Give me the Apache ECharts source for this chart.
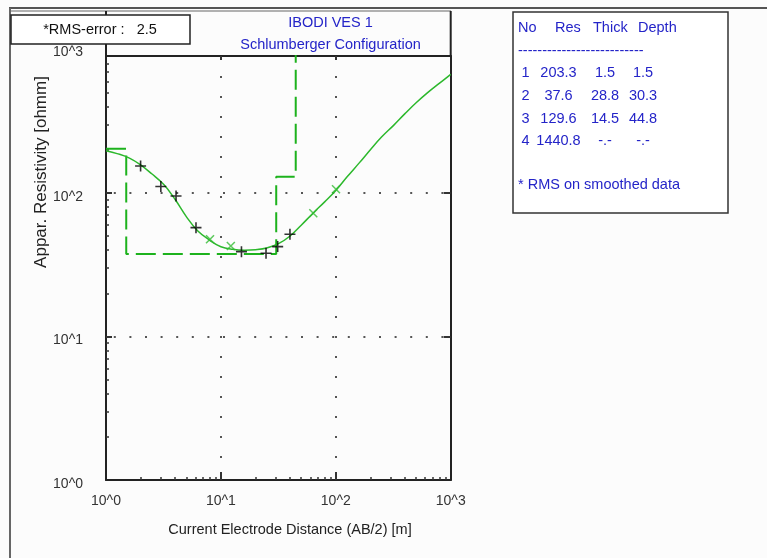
<!DOCTYPE html>
<html><head><meta charset="utf-8">
<script src="https://cdn.jsdelivr.net/npm/echarts@6/dist/echarts.min.js"></script>
<style>html,body{margin:0;padding:0;background:#fcfcfc}#c{width:767px;height:558px}</style>
</head><body><div id="c"></div>
<script>
// ---- texts ----
const titleLines = ['IBODI VES 1', 'Schlumberger Configuration'];
const rmsText = '*RMS-error :   2.5';
const xName = 'Current Electrode Distance (AB/2) [m]';
const yName = 'Appar. Resistivity [ohmm]';
const tableHeader = ['No', 'Res', 'Thick', 'Depth'];
const tableRule = '--------------------------';
const tableNote = '* RMS on smoothed data';
// ---- layer model table ----
const layerNo = ['1', '2', '3', '4'];
const layerRes = [203.3, 37.6, 129.6, 1440.8];
const layerThick = ['1.5', '28.8', '14.5', '-.-'];
const layerDepth = ['1.5', '30.3', '44.8', '-.-'];
// ---- tick labels ----
const xTickValues = [1, 10, 100, 1000];
const xTickLabels = ['10^0', '10^1', '10^2', '10^3'];
const yTickValues = [1, 10, 100, 900];
const yTickLabels = ['10^0', '10^1', '10^2', '10^3'];
const majorTicks = [10, 100];
const xMinorTicks = [2,3,4,5,6,7,8,9,20,30,40,50,60,70,80,90,200,300,400,500,600,700,800,900];
const yMinorTicks = [2,3,4,5,6,7,8,9,20,30,40,50,60,70,80,90,200,300,400,500,600,700,800];
// ---- observed data (black +) ----
const obsAB = [2.0, 3.0, 4.07, 6.07, 15.1, 24.7, 31.2, 39.9];
const obsRho = [154, 111, 95.3, 57.3, 39, 38, 42.3, 51.5];
// ---- smoothed data (green x) ----
const smAB = [8.04, 12.2, 63.7, 100.4];
const smRho = [47.6, 42.7, 72.2, 106];
// ---- model response curve ----
const curveAB = [1, 1.25, 1.6, 2, 2.5, 3.2, 4, 5, 6.3, 8, 10, 12.6, 16, 20, 25, 32, 40, 50, 63, 80, 100, 126, 160, 200, 250, 320, 400, 500, 630, 800, 1000];
const curveRho = [197, 188, 175, 157, 136, 114, 90, 68.4, 54.3, 46.8, 42.2, 40.5, 39.9, 40.2, 41.3, 44.5, 50.1, 59.6, 72, 86.7, 104, 130, 162, 200, 245, 297, 357, 425, 500, 582, 671];

const FONT = '"Liberation Sans", Arial, sans-serif';
const BLUE = '#2424c8';
const GREEN = '#1db21d';

const zip = (a, b) => a.map((v, i) => [v, b[i]]);
// step model from layers
const depths = layerDepth.filter(d => !isNaN(parseFloat(d))).map(parseFloat);
const modelPts = [[xTickValues[0], layerRes[0]]];
depths.forEach((d, i) => { modelPts.push([d, layerRes[i]]); modelPts.push([d, layerRes[i + 1]]); });

const fmt = (labels) => (v) => labels[Math.round(Math.log10(v))];

const L = 106, T = 56, W = 344.7, H = 424;
const baseAxis = {type: 'log', logBase: 10, axisLine: {show: false}, axisTick: {show: false}, axisLabel: {show: false}, splitLine: {show: false}, minorTick: {show: false}, minorSplitLine: {show: false}};
const axLine = {show: true, onZero: false, lineStyle: {color: '#222', width: 2}};

const chart = echarts.init(document.getElementById('c'), null, {renderer: 'canvas'});

function txt(text, x, y, opt) {
  opt = opt || {};
  return {type: 'text', z: 50, rotation: opt.rotation || 0, x: x, y: y,
    style: {text: text, x: 0, y: 0, fill: opt.fill || BLUE, font: (opt.size || 14.5) + 'px ' + FONT,
      align: opt.align || 'left', verticalAlign: 'middle', textAlign: opt.align || 'left', textVerticalAlign: 'middle'}};
}
function line(x1, y1, x2, y2, color, w) {
  return {type: 'line', z: 40, shape: {x1, y1, x2, y2}, style: {stroke: color, lineWidth: w}};
}

const graphics = [
  line(9, 8, 767, 8, '#555', 2),
  line(10, 8, 10, 558, '#666', 2),
  line(10, 11, 451, 11, '#666', 1),
  line(L, 11, L, T, '#222', 2),
  line(L + W, 11, L + W, T, '#222', 2),
  {type: 'rect', z: 45, shape: {x: 11, y: 15, width: 179, height: 29}, style: {fill: '#fff', stroke: '#222', lineWidth: 1.5}},
  txt(rmsText, 100, 29.5, {fill: '#111', align: 'center'}),
  txt(titleLines[0], 330.5, 23, {align: 'center'}),
  txt(titleLines[1], 330.5, 45, {align: 'center'}),
  {type: 'rect', z: 45, shape: {x: 513, y: 12, width: 215, height: 201}, style: {fill: '#fff', stroke: '#333', lineWidth: 1.5}},
  txt(xName, 290, 530, {fill: '#222', align: 'center', size: 14.5}),
  txt(yName, 41, 172, {fill: '#222', align: 'center', size: 17, rotation: Math.PI / 2}),
  txt(tableRule, 518, 51),
  txt(tableNote, 518, 185)
];
const headerX = [518, 555, 593, 638];
tableHeader.forEach((h, i) => graphics.push(txt(h, headerX[i], 28)));
const colX = [525.5, 558.5, 605, 643];
const rowY = [73, 96, 118.5, 141];
layerNo.forEach((n, r) => {
  const cells = [n, layerRes[r].toFixed(1), layerThick[r], layerDepth[r]];
  cells.forEach((c, k) => graphics.push(txt(c, colX[k], rowY[r], {align: 'center'})));
});

const option = {
  backgroundColor: '#fcfcfc',
  animation: false,
  grid: [
    {left: L, top: T, width: W, height: H, containLabel: false},
    {left: L, top: T, width: W, height: H, containLabel: false}
  ],
  xAxis: [
    Object.assign({}, baseAxis, {gridIndex: 0, position: 'bottom', min: 1, max: 1000, axisLine: axLine,
      axisTick: {show: true, inside: true, length: 8, customValues: majorTicks, lineStyle: {color: '#333', width: 2}},
      axisLabel: {show: true, customValues: xTickValues, formatter: fmt(xTickLabels), margin: 14, color: '#333', fontSize: 14, fontFamily: FONT},
      splitLine: {show: true, lineStyle: {color: '#555', width: 2, type: [2, 18]}}}),
    Object.assign({}, baseAxis, {gridIndex: 0, position: 'top', min: 1, max: 1000, axisLine: axLine,
      axisTick: {show: true, inside: true, length: 4, customValues: majorTicks, lineStyle: {color: '#333', width: 2}}}),
    Object.assign({}, baseAxis, {gridIndex: 1, position: 'bottom', min: 1, max: 1000,
      axisTick: {show: true, inside: true, length: 3, customValues: xMinorTicks, lineStyle: {color: '#333', width: 1.5}}})
  ],
  yAxis: [
    Object.assign({}, baseAxis, {gridIndex: 0, position: 'left', min: 1, max: yTickValues[3], axisLine: axLine,
      axisTick: {show: true, inside: true, length: 6, customValues: majorTicks, lineStyle: {color: '#333', width: 2}},
      axisLabel: {show: true, customValues: yTickValues, margin: 23, color: '#333', fontSize: 14, fontFamily: FONT,
        formatter: (v) => { const i = Math.round(Math.log10(v)); return (i === 3 ? '{t|' : '{n|') + yTickLabels[i] + '}'; },
        rich: {t: {padding: [0, 0, 7, 0], fontSize: 14, fontFamily: FONT, color: '#333'}, n: {padding: [8, 0, 0, 0], fontSize: 14, fontFamily: FONT, color: '#333'}}},
      splitLine: {show: true, lineStyle: {color: '#555', width: 2, type: [2, 13.6], dashOffset: 7.8}}}),
    Object.assign({}, baseAxis, {gridIndex: 0, position: 'right', min: 1, max: yTickValues[3], axisLine: axLine,
      axisTick: {show: true, inside: true, length: 7, customValues: majorTicks, lineStyle: {color: '#333', width: 2}}}),
    Object.assign({}, baseAxis, {gridIndex: 1, position: 'left', min: 1, max: yTickValues[3],
      axisTick: {show: true, inside: true, length: 3, customValues: yMinorTicks, lineStyle: {color: '#333', width: 1.5}}})
  ],
  series: [
    {type: 'line', xAxisIndex: 0, yAxisIndex: 0, data: modelPts, symbol: 'none', clip: true, silent: true,
      lineStyle: {color: GREEN, width: 2, type: [20, 7]}, z: 2},
    {type: 'line', xAxisIndex: 0, yAxisIndex: 0, data: zip(curveAB, curveRho), symbol: 'none', smooth: 0.4, clip: true, silent: true,
      lineStyle: {color: '#2cb82c', width: 1.5}, z: 3},
    {type: 'scatter', xAxisIndex: 0, yAxisIndex: 0, data: zip(smAB, smRho), symbol: 'path://M0,0L10,10M0,10L10,0', symbolSize: 8, silent: true,
      itemStyle: {color: 'none', borderColor: '#33bb33', borderWidth: 1.5}, z: 4},
    {type: 'scatter', xAxisIndex: 0, yAxisIndex: 0, data: zip(obsAB, obsRho), symbol: 'path://M0,5L10,5M5,0L5,10', symbolSize: 11, silent: true,
      itemStyle: {color: 'none', borderColor: '#000', borderWidth: 1.6}, z: 5}
  ],
  graphic: graphics
};
chart.setOption(option);
</script></body></html>
